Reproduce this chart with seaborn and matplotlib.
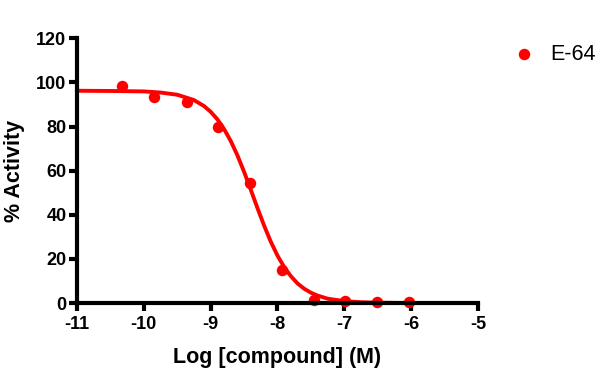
import numpy as np
import pandas as pd
import seaborn as sns
import matplotlib.pyplot as plt

# measured points (log M vs % activity)
log_conc = [-10.32, -9.85, -9.36, -8.89, -8.41, -7.94, -7.46, -6.99, -6.51, -6.04]
activity = [98.2, 93.2, 91.1, 79.6, 54.4, 14.9, 1.2, 0.8, 0.6, 0.6]

# fitted curve
curve_x = [-11.0, -10.5, -10.0, -9.75, -9.5, -9.25, -9.1, -9.0, -8.9, -8.8, -8.7,
           -8.6, -8.5, -8.4, -8.3, -8.2, -8.1, -8.0, -7.9, -7.8, -7.7, -7.6,
           -7.5, -7.4, -7.25, -7.0, -6.75, -6.5, -6.0]
curve_y = [96.2, 96.1, 95.9, 95.4, 94.4, 92.0, 89.3, 86.7, 83.3, 78.9, 73.5,
           67.0, 59.5, 51.4, 43.1, 35.1, 27.8, 21.5, 16.3, 12.2, 8.9, 6.5,
           4.7, 3.4, 2.0, 0.9, 0.4, 0.2, 0.0]

series_name = "E-64"
x_ticks = [-11, -10, -9, -8, -7, -6, -5]
y_ticks = [0, 20, 40, 60, 80, 100, 120]

sns.set_style("ticks", {"axes.edgecolor": "black", "text.color": "black",
                        "axes.labelcolor": "black", "xtick.color": "black",
                        "ytick.color": "black"})
plt.rcParams['font.family'] = ['Liberation Sans', 'DejaVu Sans']

red = "#ff0000"
pts = pd.DataFrame({"x": log_conc, "y": activity})
fit = pd.DataFrame({"x": curve_x, "y": curve_y})

fig = plt.figure(figsize=(6.0, 3.71), dpi=100)
ax = fig.add_axes([0.128, 0.183, 0.669, 0.714])

sns.lineplot(data=fit, x="x", y="y", color=red, linewidth=2.8, ax=ax,
             clip_on=False, zorder=2)
sns.scatterplot(data=pts, x="x", y="y", color=red, s=68, edgecolor=red,
                linewidth=0, ax=ax, clip_on=False, zorder=3, label=series_name)

ax.set_xlim(-11, -5)
ax.set_ylim(0, 120)
ax.set_xticks(x_ticks)
ax.set_yticks(y_ticks)
ax.set_xticklabels([str(t) for t in x_ticks], fontweight='bold', fontsize=13)
ax.set_yticklabels([str(t) for t in y_ticks], fontweight='bold', fontsize=13)
ax.set_xlabel("Log [compound] (M)", fontweight='bold', fontsize=15.5, labelpad=10)
ax.set_ylabel("% Activity", fontweight='bold', fontsize=15.5, labelpad=8)

for side in ["left", "bottom"]:
    ax.spines[side].set_linewidth(3)
    ax.spines[side].set_zorder(4)
    ax.spines[side].set_capstyle("projecting")
for side in ["top", "right"]:
    ax.spines[side].set_visible(False)
ax.tick_params(width=3, length=5.5, color="black", labelcolor="black")
ax.tick_params(axis="x", pad=4)
ax.tick_params(axis="y", pad=2)

leg = ax.legend(loc="center left", bbox_to_anchor=(0.841, 0.854),
                bbox_transform=fig.transFigure, borderaxespad=0, frameon=False,
                fontsize=15.5, handlelength=1.0, handletextpad=0.7)
for txt in leg.get_texts():
    txt.set_color("black")

fig.savefig("out.png", dpi=100)
